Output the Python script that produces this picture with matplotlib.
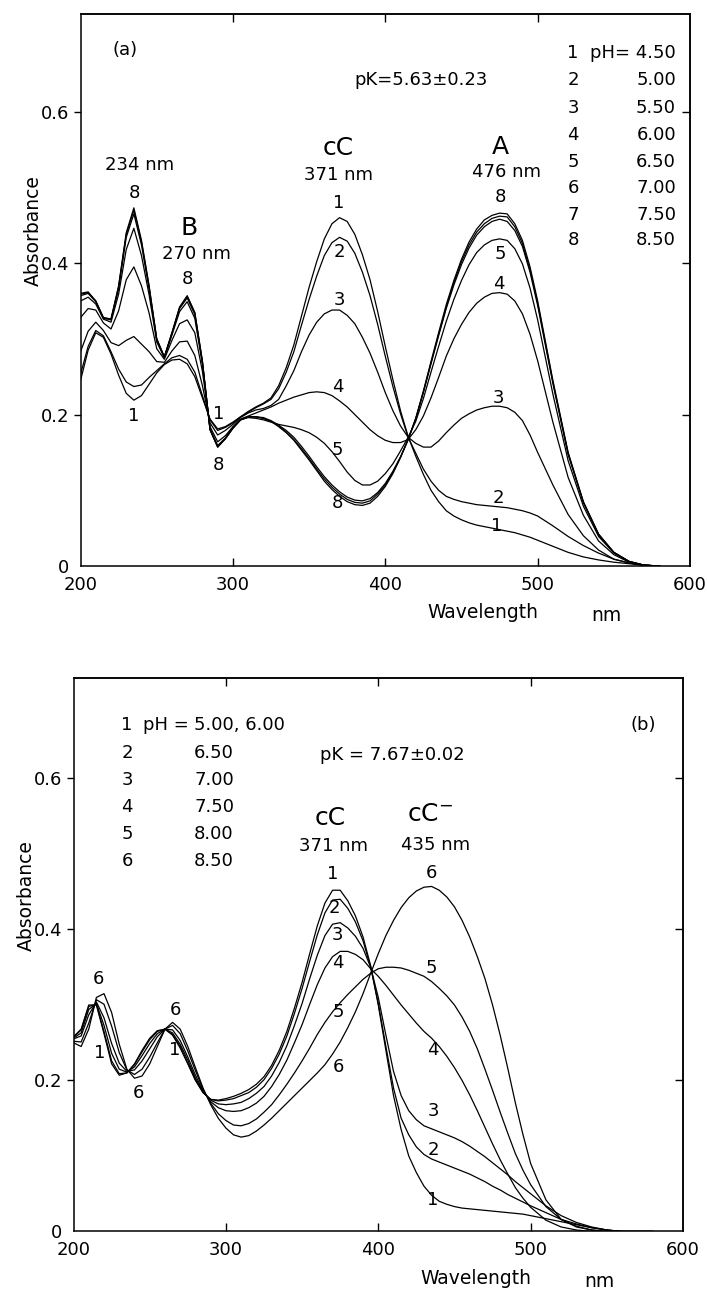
import matplotlib
matplotlib.use("Agg")
import matplotlib.pyplot as plt

plt.rcParams['font.family'] = ['DejaVu Sans']
plt.rcParams['mathtext.default'] = 'regular'

# wavelength grid (nm)
wavelength = [200, 205, 210, 215, 220, 225, 230, 235, 240, 245, 250, 255, 260, 265, 270,
              275, 280, 285, 290, 295, 300, 305, 310, 315, 320, 325, 330, 335,
              340, 345, 350, 355, 360, 365, 370, 375, 380, 385, 390, 395, 400, 405,
              410, 415, 420, 425, 430, 435, 440, 445, 450, 455, 460, 465, 470, 475,
              480, 485, 490, 495, 500,
              510, 520, 530, 540, 550, 560, 570, 580]

# ---------------- panel (a) ----------------
ph_a = ["4.50", "5.00", "5.50", "6.00", "6.50", "7.00", "7.50", "8.50"]
a1 = [0.245, 0.285, 0.308, 0.302, 0.280, 0.252, 0.228, 0.219, 0.225, 0.240, 0.255, 0.266, 0.272, 0.273, 0.267,
      0.250, 0.222, 0.194, 0.181, 0.184, 0.190, 0.197, 0.204, 0.210, 0.215, 0.222, 0.238, 0.262,
      0.292, 0.330, 0.368, 0.402, 0.432, 0.452, 0.460, 0.455, 0.438, 0.411, 0.378, 0.336, 0.290, 0.246,
      0.205, 0.171, 0.145, 0.121, 0.100, 0.085, 0.073, 0.066, 0.061, 0.057, 0.054, 0.052, 0.050, 0.048,
      0.046, 0.044, 0.041, 0.038, 0.034,
      0.026, 0.018, 0.012, 0.008, 0.005, 0.003, 0.001, 0.000]
a2 = [0.253, 0.290, 0.311, 0.304, 0.283, 0.260, 0.243, 0.237, 0.239, 0.249, 0.258, 0.267, 0.275, 0.278, 0.273,
      0.256, 0.225, 0.193, 0.179, 0.183, 0.189, 0.197, 0.203, 0.209, 0.214, 0.220, 0.234, 0.256,
      0.283, 0.318, 0.352, 0.383, 0.410, 0.427, 0.434, 0.429, 0.413, 0.388, 0.357, 0.319, 0.277, 0.237,
      0.201, 0.170, 0.149, 0.128, 0.112, 0.100, 0.092, 0.088, 0.085, 0.083, 0.081, 0.080, 0.079, 0.078,
      0.077, 0.075, 0.073, 0.070, 0.066,
      0.053, 0.039, 0.027, 0.017, 0.009, 0.004, 0.001, 0.000]
a3 = [0.283, 0.310, 0.322, 0.311, 0.295, 0.291, 0.298, 0.303, 0.293, 0.283, 0.270, 0.269, 0.284, 0.296, 0.297,
      0.278, 0.238, 0.189, 0.173, 0.179, 0.187, 0.196, 0.202, 0.206, 0.208, 0.212, 0.220, 0.238,
      0.258, 0.283, 0.305, 0.322, 0.333, 0.338, 0.338, 0.331, 0.320, 0.302, 0.281, 0.256, 0.229, 0.205,
      0.185, 0.170, 0.162, 0.157, 0.157, 0.165, 0.176, 0.186, 0.195, 0.201, 0.206, 0.209, 0.211, 0.211,
      0.209, 0.203, 0.192, 0.173, 0.150,
      0.107, 0.068, 0.040, 0.021, 0.009, 0.004, 0.001, 0.000]
a4 = [0.328, 0.340, 0.338, 0.321, 0.313, 0.337, 0.378, 0.395, 0.370, 0.334, 0.287, 0.273, 0.298, 0.320, 0.325,
      0.308, 0.257, 0.184, 0.164, 0.172, 0.184, 0.194, 0.198, 0.202, 0.206, 0.210, 0.215, 0.219,
      0.223, 0.226, 0.229, 0.230, 0.229, 0.225, 0.218, 0.210, 0.200, 0.190, 0.180, 0.172, 0.166, 0.163,
      0.163, 0.167, 0.180, 0.198, 0.222, 0.249, 0.277, 0.300, 0.319, 0.335, 0.347, 0.355, 0.360, 0.361,
      0.359, 0.350, 0.333, 0.306, 0.271,
      0.190, 0.117, 0.067, 0.033, 0.015, 0.005, 0.001, 0.000]
a5 = [0.350, 0.355, 0.346, 0.326, 0.322, 0.359, 0.418, 0.446, 0.410, 0.358, 0.296, 0.275, 0.305, 0.336, 0.349,
      0.327, 0.266, 0.181, 0.159, 0.169, 0.183, 0.193, 0.196, 0.195, 0.193, 0.190, 0.187, 0.185,
      0.183, 0.180, 0.176, 0.170, 0.162, 0.151, 0.138, 0.124, 0.113, 0.107, 0.107, 0.112, 0.122, 0.135,
      0.152, 0.170, 0.191, 0.221, 0.256, 0.290, 0.323, 0.352, 0.377, 0.398, 0.414, 0.424, 0.430, 0.432,
      0.430, 0.419, 0.399, 0.367, 0.325,
      0.227, 0.139, 0.079, 0.039, 0.017, 0.006, 0.001, 0.000]
a6 = [0.357, 0.360, 0.349, 0.327, 0.325, 0.366, 0.434, 0.465, 0.424, 0.366, 0.299, 0.276, 0.307, 0.340, 0.354,
      0.332, 0.269, 0.180, 0.158, 0.168, 0.182, 0.193, 0.197, 0.197, 0.196, 0.192, 0.186, 0.179,
      0.170, 0.158, 0.145, 0.131, 0.118, 0.107, 0.098, 0.091, 0.087, 0.086, 0.089, 0.097, 0.109, 0.125,
      0.144, 0.167, 0.194, 0.229, 0.267, 0.304, 0.340, 0.371, 0.398, 0.420, 0.437, 0.448, 0.455, 0.458,
      0.455, 0.443, 0.422, 0.388, 0.344,
      0.241, 0.147, 0.084, 0.041, 0.018, 0.006, 0.001, 0.000]
a7 = [0.359, 0.361, 0.350, 0.328, 0.326, 0.369, 0.438, 0.470, 0.428, 0.369, 0.300, 0.276, 0.308, 0.341, 0.356,
      0.334, 0.270, 0.180, 0.157, 0.168, 0.182, 0.193, 0.197, 0.197, 0.195, 0.191, 0.185, 0.177,
      0.167, 0.155, 0.142, 0.128, 0.115, 0.104, 0.095, 0.088, 0.084, 0.083, 0.086, 0.095, 0.107, 0.124,
      0.144, 0.167, 0.195, 0.230, 0.268, 0.306, 0.342, 0.374, 0.402, 0.424, 0.441, 0.452, 0.459, 0.462,
      0.461, 0.448, 0.426, 0.391, 0.347,
      0.243, 0.149, 0.084, 0.042, 0.018, 0.006, 0.001, 0.000]
a8 = [0.360, 0.362, 0.350, 0.328, 0.326, 0.370, 0.440, 0.473, 0.430, 0.370, 0.300, 0.276, 0.308, 0.342, 0.357,
      0.335, 0.270, 0.180, 0.157, 0.168, 0.182, 0.193, 0.197, 0.197, 0.195, 0.191, 0.184, 0.176,
      0.166, 0.153, 0.140, 0.126, 0.112, 0.101, 0.092, 0.085, 0.081, 0.080, 0.083, 0.092, 0.105, 0.122,
      0.143, 0.167, 0.195, 0.231, 0.270, 0.308, 0.345, 0.377, 0.405, 0.428, 0.445, 0.457, 0.463, 0.466,
      0.465, 0.452, 0.430, 0.395, 0.350,
      0.245, 0.150, 0.085, 0.042, 0.018, 0.006, 0.001, 0.000]

# ---------------- panel (b) ----------------
ph_b = ["5.00, 6.00", "6.50", "7.00", "7.50", "8.00", "8.50"]
b1 = [0.258, 0.268, 0.300, 0.300, 0.262, 0.222, 0.207, 0.210, 0.222, 0.240, 0.256, 0.266, 0.268, 0.260, 0.243,
      0.222, 0.200, 0.184, 0.175, 0.174, 0.176, 0.179, 0.183, 0.188, 0.195, 0.205, 0.220, 0.240,
      0.265, 0.296, 0.330, 0.368, 0.405, 0.435, 0.452, 0.452, 0.438, 0.418, 0.390, 0.352, 0.300, 0.240,
      0.180, 0.135, 0.100, 0.078, 0.060, 0.048, 0.040, 0.036, 0.033, 0.031, 0.030, 0.029, 0.028, 0.027,
      0.026, 0.025, 0.024, 0.023, 0.021,
      0.017, 0.013, 0.009, 0.005, 0.002, 0.000, 0.000, 0.000]
b2 = [0.257, 0.267, 0.298, 0.301, 0.265, 0.226, 0.209, 0.210, 0.221, 0.238, 0.254, 0.265, 0.268, 0.261, 0.245,
      0.223, 0.201, 0.184, 0.175, 0.173, 0.174, 0.176, 0.180, 0.184, 0.191, 0.201, 0.216, 0.235,
      0.259, 0.289, 0.322, 0.358, 0.393, 0.422, 0.439, 0.440, 0.428, 0.410, 0.385, 0.350, 0.302, 0.245,
      0.190, 0.150, 0.128, 0.112, 0.102, 0.096, 0.092, 0.088, 0.084, 0.080, 0.076, 0.071, 0.066, 0.060,
      0.055, 0.049, 0.044, 0.039, 0.034,
      0.025, 0.016, 0.010, 0.005, 0.002, 0.000, 0.000, 0.000]
b3 = [0.256, 0.263, 0.294, 0.302, 0.273, 0.236, 0.215, 0.211, 0.218, 0.233, 0.249, 0.262, 0.268, 0.263, 0.248,
      0.227, 0.203, 0.185, 0.174, 0.169, 0.168, 0.169, 0.171, 0.176, 0.183, 0.192, 0.206, 0.224,
      0.246, 0.273, 0.302, 0.335, 0.366, 0.392, 0.407, 0.409, 0.402, 0.391, 0.375, 0.350, 0.310, 0.260,
      0.212, 0.180, 0.160, 0.148, 0.140, 0.136, 0.132, 0.128, 0.124, 0.119, 0.113, 0.106, 0.099, 0.091,
      0.083, 0.075, 0.066, 0.058, 0.050,
      0.034, 0.021, 0.012, 0.006, 0.002, 0.000, 0.000, 0.000]
b4 = [0.255, 0.259, 0.287, 0.304, 0.283, 0.249, 0.223, 0.212, 0.214, 0.226, 0.242, 0.258, 0.268, 0.267, 0.253,
      0.231, 0.207, 0.186, 0.172, 0.164, 0.160, 0.159, 0.160, 0.164, 0.170, 0.179, 0.192, 0.208,
      0.227, 0.250, 0.274, 0.301, 0.327, 0.349, 0.364, 0.371, 0.371, 0.367, 0.360, 0.348, 0.338, 0.326,
      0.313, 0.300, 0.288, 0.276, 0.265, 0.256, 0.245, 0.232, 0.217, 0.200, 0.181, 0.160, 0.138, 0.116,
      0.095, 0.076, 0.058, 0.044, 0.032,
      0.015, 0.006, 0.002, 0.000, 0.000, 0.000, 0.000, 0.000]
b5 = [0.252, 0.251, 0.276, 0.307, 0.301, 0.272, 0.237, 0.214, 0.208, 0.215, 0.231, 0.250, 0.268, 0.273, 0.262,
      0.239, 0.213, 0.188, 0.170, 0.156, 0.147, 0.141, 0.140, 0.143, 0.149, 0.158, 0.168, 0.181,
      0.195, 0.210, 0.226, 0.243, 0.261, 0.277, 0.291, 0.303, 0.314, 0.324, 0.334, 0.342, 0.348, 0.350,
      0.350, 0.349, 0.346, 0.342, 0.338, 0.331, 0.322, 0.312, 0.300, 0.284, 0.265, 0.242, 0.215, 0.187,
      0.158, 0.130, 0.103, 0.081, 0.062,
      0.033, 0.016, 0.007, 0.002, 0.000, 0.000, 0.000, 0.000]
b6 = [0.250, 0.245, 0.268, 0.310, 0.315, 0.290, 0.248, 0.215, 0.203, 0.206, 0.222, 0.245, 0.268, 0.277, 0.268,
      0.245, 0.217, 0.190, 0.168, 0.150, 0.137, 0.128, 0.125, 0.127, 0.133, 0.141, 0.150, 0.160,
      0.170, 0.180, 0.190, 0.200, 0.210, 0.221, 0.235, 0.251, 0.270, 0.291, 0.315, 0.342, 0.368, 0.392,
      0.412, 0.429, 0.442, 0.451, 0.456, 0.457, 0.452, 0.443, 0.430, 0.412, 0.390, 0.364, 0.335, 0.300,
      0.260, 0.216, 0.170, 0.128, 0.090,
      0.042, 0.016, 0.006, 0.002, 0.000, 0.000, 0.000, 0.000]

x_ticks = [200, 300, 400, 500, 600]
y_ticks = [0.0, 0.2, 0.4, 0.6]
y_ticklabels = ["0", "0.2", "0.4", "0.6"]

FS = 13
BIG = 18
LW = 0.9


def style_axes(ax, ytop):
    ax.set_xlim(200, 600)
    ax.set_ylim(0, ytop)
    for s in ax.spines.values():
        s.set_linewidth(1.1)
    ax.set_xticks(x_ticks)
    ax.set_xticklabels([str(t) for t in x_ticks])
    ax.set_yticks(y_ticks)
    ax.set_yticklabels(y_ticklabels)
    ax.tick_params(axis='x', direction='in', length=6, width=1.0, pad=7, labelsize=FS)
    ax.tick_params(axis='y', direction='out', length=5, width=1.0, pad=3, labelsize=FS)
    xt = ax.xaxis.get_major_ticks()
    xt[0].tick1line.set_visible(False)
    xt[-1].tick1line.set_visible(False)
    ax.yaxis.get_major_ticks()[0].tick1line.set_visible(False)
    top = ax.secondary_xaxis('top')
    top.set_xticks(x_ticks[1:-1])
    top.tick_params(direction='in', length=6, width=1.0, labeltop=False)
    top.spines['top'].set_linewidth(1.1)
    right = ax.secondary_yaxis('right')
    right.set_yticks(y_ticks[1:])
    right.tick_params(direction='in', length=6, width=1.0, labelright=False)
    right.spines['right'].set_linewidth(1.1)
    ax.text(-0.078, 0.607, "Absorbance", transform=ax.transAxes, rotation=90,
            ha='center', va='center', fontsize=13.5)
    ax.text(0.66, -0.085, "Wavelength", transform=ax.transAxes,
            ha='center', va='center', fontsize=13.5)
    ax.text(0.862, -0.09, "nm", transform=ax.transAxes,
            ha='center', va='center', fontsize=13.5)


fig = plt.figure(figsize=(7.07, 12.94), dpi=100)
fig.patch.set_facecolor('white')

axa = fig.add_axes([0.1139, 0.5626, 0.8621, 0.4266])
axb = fig.add_axes([0.1040, 0.0483, 0.8621, 0.4277])

for ys in [a1, a2, a3, a4, a5, a6, a7, a8]:
    axa.plot(wavelength, ys, color='black', lw=LW)
for ys in [b1, b2, b3, b4, b5, b6]:
    axb.plot(wavelength, ys, color='black', lw=LW)

style_axes(axa, 0.729)
style_axes(axb, 0.733)

# ---- panel (a) annotations ----
labels_a = [
    ("234 nm", 239.0, 0.530, FS), ("8", 235.2, 0.493, FS),
    ("B", 271.5, 0.447, BIG), ("270 nm", 276.2, 0.412, FS), ("8", 270.4, 0.379, FS),
    ("cC", 369.4, 0.552, BIG), ("371 nm", 369.6, 0.516, FS),
    ("1", 369.6, 0.479, FS), ("2", 369.6, 0.415, FS), ("3", 369.6, 0.351, FS),
    ("4", 369.0, 0.236, FS), ("5", 368.5, 0.153, FS), ("8", 368.5, 0.083, FS),
    ("A", 475.4, 0.553, BIG), ("476 nm", 479.7, 0.520, FS),
    ("8", 475.5, 0.487, FS), ("5", 475.5, 0.412, FS), ("4", 474.4, 0.372, FS),
    ("3", 474.4, 0.222, FS), ("2", 474.2, 0.090, FS), ("1", 473.3, 0.053, FS),
    ("1", 235.2, 0.198, FS), ("1", 290.9, 0.201, FS), ("8", 290.4, 0.134, FS),
]
for t, x, y, s in labels_a:
    axa.text(x, y, t, ha='center', va='center', fontsize=s)

axa.text(0.073, 0.935, "(a)", transform=axa.transAxes, ha='center', va='center', fontsize=FS)
axa.text(0.559, 0.880, "pK=5.63\u00b10.23", transform=axa.transAxes, ha='center', va='center', fontsize=FS)
rows_a = [0.929, 0.880, 0.829, 0.781, 0.732, 0.684, 0.636, 0.591]
for i, (ph, fy) in enumerate(zip(ph_a, rows_a)):
    axa.text(0.808, fy, str(i + 1), transform=axa.transAxes, ha='center', va='center', fontsize=FS)
    txt = "pH= " + ph if i == 0 else ph
    axa.text(0.977, fy, txt, transform=axa.transAxes, ha='right', va='center', fontsize=FS)

# ---- panel (b) annotations ----
labels_b = [
    ("cC", 368.4, 0.547, BIG), ("371 nm", 370.8, 0.510, FS),
    ("1", 369.8, 0.473, FS), ("2", 371.4, 0.428, FS), ("3", 372.9, 0.393, FS),
    ("4", 373.7, 0.355, FS), ("5", 374.0, 0.291, FS), ("6", 373.6, 0.218, FS),
    ("cC$^{-}$", 434.0, 0.553, BIG), ("435 nm", 437.4, 0.512, FS),
    ("6", 435.0, 0.475, FS), ("5", 435.1, 0.349, FS), ("4", 435.6, 0.240, FS),
    ("3", 436.0, 0.159, FS), ("2", 436.2, 0.108, FS), ("1", 435.9, 0.042, FS),
    ("6", 216.4, 0.334, FS), ("1", 217.0, 0.236, FS), ("6", 242.9, 0.184, FS),
    ("6", 267.1, 0.294, FS), ("1", 266.1, 0.241, FS),
]
for t, x, y, s in labels_b:
    axb.text(x, y, t, ha='center', va='center', fontsize=s)

axb.text(0.934, 0.915, "(b)", transform=axb.transAxes, ha='center', va='center', fontsize=FS)
axb.text(0.5226, 0.861, "pK = 7.67\u00b10.02", transform=axb.transAxes, ha='center', va='center', fontsize=FS)
rows_b = [0.915, 0.864, 0.815, 0.767, 0.718, 0.669]
for i, (ph, fy) in enumerate(zip(ph_b, rows_b)):
    axb.text(0.0878, fy, str(i + 1), transform=axb.transAxes, ha='center', va='center', fontsize=FS)
    if i == 0:
        axb.text(0.189, fy, "pH =", transform=axb.transAxes, ha='right', va='center', fontsize=FS)
    axb.text(0.198, fy, ph, transform=axb.transAxes, ha='left', va='center', fontsize=FS)

fig.savefig("out.png", dpi=100, facecolor='white')
